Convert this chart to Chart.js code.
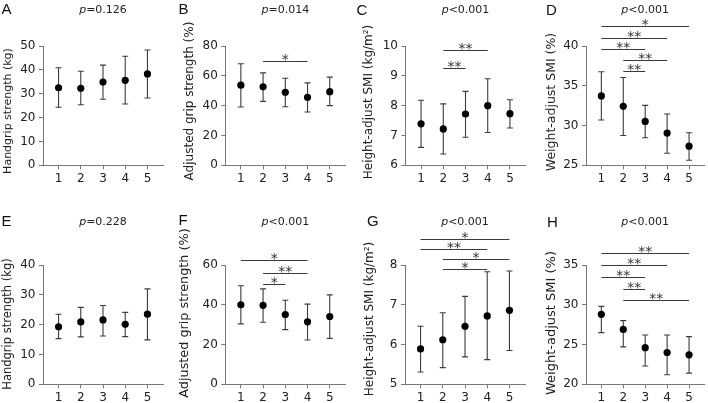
<!DOCTYPE html>
<html>
<head>
<meta charset="utf-8">
<script src="https://cdn.jsdelivr.net/npm/chart.js@4.4.1/dist/chart.umd.min.js"></script>
<style>
  html, body { margin: 0; padding: 0; background: #fff; }
  #fig { position: relative; width: 708px; height: 403px; overflow: hidden; }
  #fig canvas { position: absolute; }
</style>
</head>
<body>
<div id="fig"></div>
<script>
// x axis groups
const groups = [1, 2, 3, 4, 5];

// A - handgrip strength (kg)
const meanA = [32.5, 32.3, 34.9, 35.6, 38.3];
const highA = [40.9, 39.4, 42.0, 45.7, 48.3];
const lowA  = [24.3, 25.4, 27.7, 25.7, 28.2];
const ticksA = [0, 10, 20, 30, 40, 50];

// B - adjusted grip strength (%)
const meanB = [53.7, 52.6, 49.0, 45.6, 49.4];
const highB = [68.1, 62.0, 58.4, 55.3, 59.1];
const lowB  = [39.1, 42.9, 39.3, 35.7, 40.0];
const ticksB = [0, 20, 40, 60, 80];
const sigB = [[2, 4, '*', 69.7]];

// C - height-adjust SMI (kg/m2)
const meanC = [7.39, 7.22, 7.72, 8.00, 7.73];
const highC = [8.18, 8.06, 8.48, 8.90, 8.20];
const lowC  = [6.60, 6.38, 6.94, 7.10, 7.25];
const ticksC = [6, 7, 8, 9, 10];
const sigC = [[2, 4, '**', 9.88], [2, 3, '**', 9.26]];

// D - weight-adjust SMI (%)
const meanD = [33.72, 32.42, 30.52, 29.05, 27.41];
const highD = [36.76, 36.04, 32.54, 31.45, 29.09];
const lowD  = [30.69, 28.75, 28.46, 26.52, 25.64];
const ticksD = [25, 30, 35, 40];
const sigD = [[1, 5, '*', 42.53], [1, 4, '**', 41.05], [1, 3, '**', 39.66], [2, 4, '**', 38.23], [2, 3, '**', 36.84]];

// E - handgrip strength (kg)
const meanE = [19.3, 20.9, 21.6, 20.1, 23.5];
const highE = [23.5, 25.8, 26.4, 24.1, 32.0];
const lowE  = [15.3, 15.9, 16.2, 16.0, 14.9];
const ticksE = [0, 10, 20, 30, 40];

// F - adjusted grip strength (%)
const meanF = [40.0, 39.7, 35.1, 31.4, 34.1];
const highF = [49.6, 48.0, 42.3, 40.3, 45.0];
const lowF  = [30.4, 31.2, 27.5, 22.3, 23.1];
const ticksF = [0, 20, 40, 60];
const sigF = [[1, 4, '*', 62.4], [2, 4, '**', 56.2], [2, 3, '*', 50.3]];

// G - height-adjust SMI (kg/m2)
const meanG = [5.89, 6.12, 6.46, 6.72, 6.86];
const highG = [6.46, 6.80, 7.21, 7.83, 7.85];
const lowG  = [5.31, 5.42, 5.69, 5.62, 5.85];
const ticksG = [5, 6, 7, 8];
const sigG = [[1, 5, '*', 8.65], [1, 4, '**', 8.40], [2, 5, '*', 8.15], [2, 4, '*', 7.90]];

// H - weight-adjust SMI (%)
const meanH = [28.8, 26.9, 24.6, 24.0, 23.7];
const highH = [29.8, 28.0, 26.2, 26.2, 26.0];
const lowH  = [26.5, 24.7, 22.3, 21.2, 21.4];
const ticksH = [20, 25, 30, 35];
const sigH = [[1, 5, '**', 36.55], [1, 4, '**', 34.96], [1, 3, '**', 33.49], [2, 3, '**', 32.02], [2, 5, '**', 30.56]];

const pValues = ['=0.126', '=0.014', '<0.001', '<0.001', '=0.228', '<0.001', '<0.001', '<0.001'];

const titles = [
  'Handgrip strength (kg)', 'Adjusted grip strength (%)', 'Height-adjust SMI (kg/m\u00b2)', 'Weight-adjust SMI (%)',
  'Handgrip strength (kg)', 'Adjusted grip strength (%)', 'Height-adjust SMI (kg/m\u00b2)', 'Weight-adjust SMI (%)'
];

// ─── Layout (canvas-internal pixels) ─────────────────────────────────────
const FONT = '"DejaVu Sans", Verdana, sans-serif';
const rows = [
  { top: 0,   height: 200, padTop: 46, axisH: 34.7, pBase: 12.5, labelPad: 2.5 },
  { top: 200, height: 203, padTop: 65, axisH: 18.7, pBase: 25,   labelPad: 2.5 }
];
const colX = [0, 177, 354, 531];
const PANEL_W = 177;
const PLOT_W = 120;

const panels = [
  { letter: 'A', row: 0, col: 0, left: 43,   letterAt: [1.5, 14],  titleAt: [8, 111],    titleSize: 11,   mean: meanA, high: highA, low: lowA, ticks: ticksA, sig: [] },
  { letter: 'B', row: 0, col: 1, left: 48.3, letterAt: [1.5, 14],  titleAt: [12.8, 101], titleSize: 12,   mean: meanB, high: highB, low: lowB, ticks: ticksB, sig: sigB },
  { letter: 'C', row: 0, col: 2, left: 51.5, letterAt: [2.5, 15],  titleAt: [15.3, 102], titleSize: 12,   mean: meanC, high: highC, low: lowC, ticks: ticksC, sig: sigC },
  { letter: 'D', row: 0, col: 3, left: 55,   letterAt: [15, 15],   titleAt: [20.5, 102], titleSize: 12.5, mean: meanD, high: highD, low: lowD, ticks: ticksD, sig: sigD },
  { letter: 'E', row: 1, col: 0, left: 43,   letterAt: [1.5, 25.5],titleAt: [8, 124],    titleSize: 11.5, mean: meanE, high: highE, low: lowE, ticks: ticksE, sig: [] },
  { letter: 'F', row: 1, col: 1, left: 48.3, letterAt: [1.5, 25],  titleAt: [7.5, 113],  titleSize: 12.8, mean: meanF, high: highF, low: lowF, ticks: ticksF, sig: sigF },
  { letter: 'G', row: 1, col: 2, left: 51,   letterAt: [13, 25.5], titleAt: [15.8, 119], titleSize: 12,   mean: meanG, high: highG, low: lowG, ticks: ticksG, sig: sigG },
  { letter: 'H', row: 1, col: 3, left: 55,   letterAt: [16, 26.5], titleAt: [20.8, 123], titleSize: 13,   mean: meanH, high: highH, low: lowH, ticks: ticksH, sig: sigH }
];

// error bars under the dots, labels and brackets on top
const decorPlugin = (p, idx) => ({
  id: 'decor' + p.letter,
  beforeDatasetsDraw(chart) {
    const { ctx, scales: { x, y } } = chart;
    ctx.save();
    ctx.strokeStyle = '#3c3c3c';
    ctx.lineWidth = 1.1;
    groups.forEach((g, i) => {
      const px = x.getPixelForValue(g);
      const top = y.getPixelForValue(p.high[i]);
      const bot = y.getPixelForValue(p.low[i]);
      ctx.beginPath();
      ctx.moveTo(px, top); ctx.lineTo(px, bot);
      ctx.moveTo(px - 3, top); ctx.lineTo(px + 3, top);
      ctx.moveTo(px - 3, bot); ctx.lineTo(px + 3, bot);
      ctx.stroke();
    });
    ctx.restore();
  },
  afterDraw(chart) {
    const { ctx, scales: { x, y } } = chart;
    const row = rows[p.row];
    ctx.save();

    // panel letter
    ctx.fillStyle = '#111';
    ctx.font = '15px "Liberation Sans", Arial, sans-serif';
    ctx.textAlign = 'left';
    ctx.textBaseline = 'alphabetic';
    ctx.fillText(p.letter, p.letterAt[0], p.letterAt[1]);

    // p value, italic p
    ctx.fillStyle = '#222';
    ctx.font = 'italic 11px ' + FONT;
    const wP = ctx.measureText('p').width;
    ctx.font = '11px ' + FONT;
    const wRest = ctx.measureText(pValues[idx]).width;
    const startX = x.getPixelForValue(3) - (wP + wRest) / 2;
    ctx.font = 'italic 11px ' + FONT;
    ctx.fillText('p', startX, row.pBase);
    ctx.font = '11px ' + FONT;
    ctx.fillText(pValues[idx], startX + wP, row.pBase);

    // y axis title
    ctx.save();
    ctx.translate(p.titleAt[0], p.titleAt[1]);
    ctx.rotate(-Math.PI / 2);
    ctx.font = p.titleSize + 'px ' + FONT;
    ctx.textAlign = 'center';
    ctx.textBaseline = 'middle';
    ctx.fillText(titles[idx], 0, 0);
    ctx.restore();

    // significance brackets
    ctx.strokeStyle = '#3a3a3a';
    ctx.lineWidth = 1;
    ctx.fillStyle = '#333';
    ctx.font = '14px ' + FONT;
    ctx.textAlign = 'center';
    p.sig.forEach(([from, to, stars, level]) => {
      const x1 = x.getPixelForValue(from);
      const x2 = x.getPixelForValue(to);
      const ly = Math.round(y.getPixelForValue(level)) + 0.5;
      ctx.beginPath();
      ctx.moveTo(x1, ly); ctx.lineTo(x2, ly);
      ctx.stroke();
      ctx.fillText(stars, (x1 + x2) / 2, ly + 2.5);
    });

    ctx.restore();
  }
});

const makePanel = (p, idx) => {
  const row = rows[p.row];
  const canvas = document.createElement('canvas');
  canvas.width = PANEL_W;
  canvas.height = row.height;
  canvas.style.left = colX[p.col] + 'px';
  canvas.style.top = row.top + 'px';
  document.getElementById('fig').appendChild(canvas);

  const axisColor = '#777';
  const tickFont = { family: FONT, size: 12 };

  new Chart(canvas, {
    type: 'scatter',
    data: {
      datasets: [{
        data: groups.map((g, i) => ({ x: g, y: p.mean[i] })),
        pointRadius: 3.6,
        pointHoverRadius: 3.6,
        pointBackgroundColor: '#000',
        pointBorderWidth: 0
      }]
    },
    options: {
      responsive: false,
      animation: false,
      events: [],
      layout: { padding: { top: row.padTop, left: 0, bottom: 0, right: PANEL_W - p.left - PLOT_W } },
      plugins: { legend: { display: false }, tooltip: { enabled: false } },
      scales: {
        x: {
          type: 'linear',
          bounds: 'data',
          min: 0.3,
          max: 5.7,
          afterBuildTicks: s => { s.ticks = groups.map(v => ({ value: v })); },
          afterFit: s => { s.height = row.axisH; },
          grid: { drawOnChartArea: false, drawTicks: true, tickLength: 4, color: axisColor },
          border: { display: true, color: axisColor },
          ticks: { font: tickFont, color: '#222', padding: row.labelPad, maxRotation: 0 }
        },
        y: {
          min: p.ticks[0],
          max: p.ticks[p.ticks.length - 1],
          afterBuildTicks: s => { s.ticks = p.ticks.map(v => ({ value: v })); },
          afterFit: s => { s.width = p.left; },
          grid: { drawOnChartArea: false, drawTicks: true, tickLength: 4, color: axisColor },
          border: { display: true, color: axisColor },
          ticks: { font: tickFont, color: '#222', padding: 3.5 }
        }
      }
    },
    plugins: [decorPlugin(p, idx)]
  });
};

panels.forEach(makePanel);
</script>
</body>
</html>
